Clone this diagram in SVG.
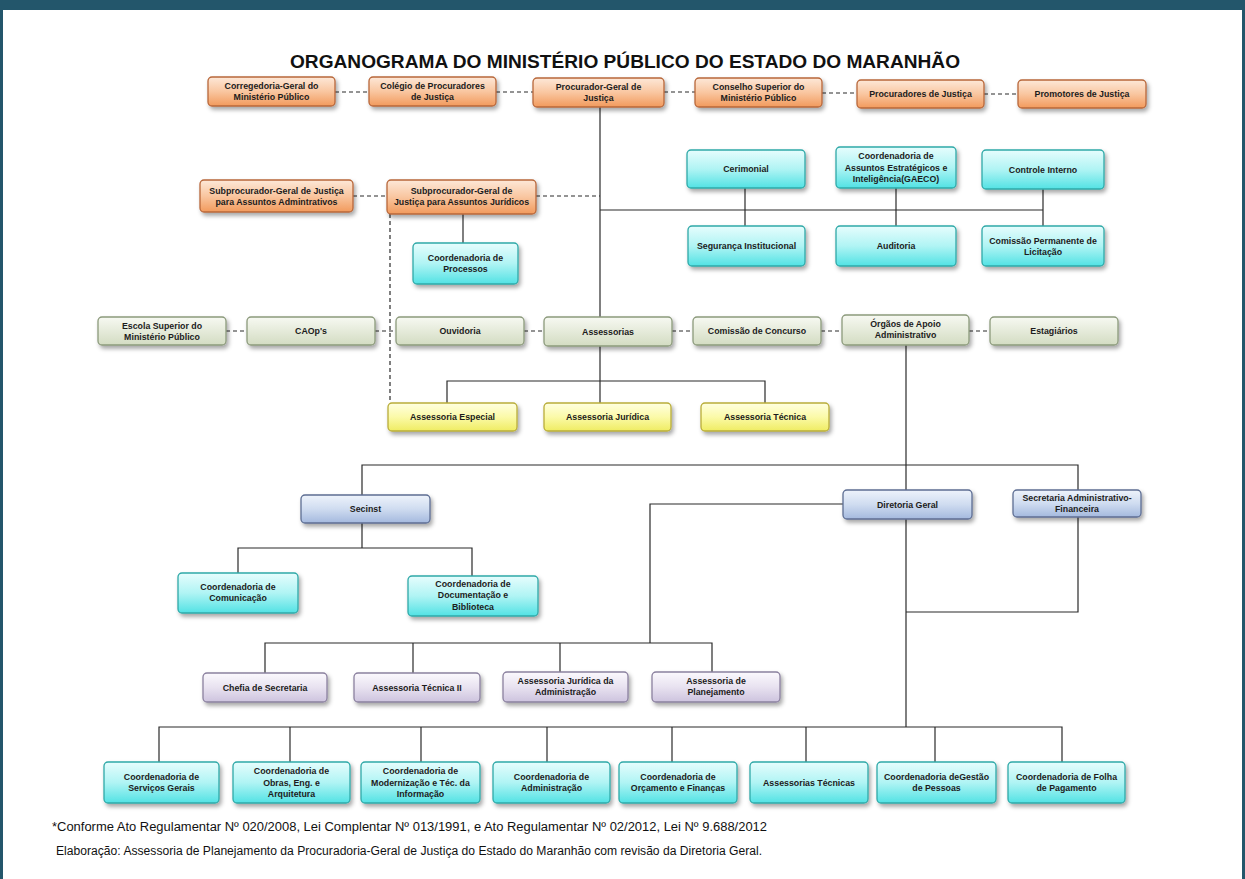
<svg xmlns="http://www.w3.org/2000/svg" width="1245" height="879" viewBox="0 0 1245 879">
<defs>
<linearGradient id="gOr" x1="0" y1="0" x2="0" y2="1"><stop offset="0" stop-color="#fde8d8"/><stop offset="0.5" stop-color="#f9c6a0"/><stop offset="1" stop-color="#f29a5c"/></linearGradient>
<linearGradient id="gCy" x1="0" y1="0" x2="0" y2="1"><stop offset="0" stop-color="#e6fdfd"/><stop offset="0.5" stop-color="#b0f4f4"/><stop offset="1" stop-color="#52e2e4"/></linearGradient>
<linearGradient id="gGr" x1="0" y1="0" x2="0" y2="1"><stop offset="0" stop-color="#f7f9f2"/><stop offset="1" stop-color="#d3dcc2"/></linearGradient>
<linearGradient id="gYe" x1="0" y1="0" x2="0" y2="1"><stop offset="0" stop-color="#ffffe0"/><stop offset="0.5" stop-color="#fbfaa8"/><stop offset="1" stop-color="#efec62"/></linearGradient>
<linearGradient id="gBl" x1="0" y1="0" x2="0" y2="1"><stop offset="0" stop-color="#eef3fb"/><stop offset="0.5" stop-color="#cfdcf0"/><stop offset="1" stop-color="#a4b9de"/></linearGradient>
<linearGradient id="gLa" x1="0" y1="0" x2="0" y2="1"><stop offset="0" stop-color="#fbf9fd"/><stop offset="0.5" stop-color="#e8e2f0"/><stop offset="1" stop-color="#cdc3de"/></linearGradient>
<filter id="sh" x="-10%" y="-20%" width="125%" height="160%"><feDropShadow dx="2" dy="3" stdDeviation="2" flood-color="#000" flood-opacity="0.35"/></filter>
</defs>
<style>
.node rect{stroke-width:1.3;filter:url(#sh)}
.or rect{fill:url(#gOr);stroke:#b8673a}
.cy rect{fill:url(#gCy);stroke:#2fa9a8}
.gr rect{fill:url(#gGr);stroke:#8c9a7c}
.ye rect{fill:url(#gYe);stroke:#b9ad3a}
.bl rect{fill:url(#gBl);stroke:#5d6e93}
.la rect{fill:url(#gLa);stroke:#8b819f}
.node text{font-family:"Liberation Sans",Arial,sans-serif;font-weight:bold;font-size:8.8px;fill:#1c1c1c;text-anchor:middle}
.conn line,.conn polyline{stroke:#2a2a2a;stroke-width:1.2;fill:none}
.conn .d{stroke-dasharray:4,3}
.title{font-family:"Liberation Sans",Arial,sans-serif;font-size:18px;font-weight:bold;fill:#111}
.foot{font-family:"Liberation Sans",Arial,sans-serif;font-size:12.5px;fill:#111}
</style>
<rect x="0" y="0" width="1245" height="879" fill="#23566b"/>
<rect x="3" y="10" width="1239" height="869" fill="#ffffff"/>
<text class="title" x="625" y="68" text-anchor="middle" textLength="670" lengthAdjust="spacingAndGlyphs">ORGANOGRAMA DO MINISTÉRIO PÚBLICO DO ESTADO DO MARANHÃO</text>

<g class="conn">
<line class="d" x1="335" y1="92" x2="369" y2="92"/>
<line class="d" x1="496" y1="92" x2="533" y2="92"/>
<line class="d" x1="664" y1="92" x2="695" y2="92"/>
<line class="d" x1="822" y1="93" x2="857" y2="93"/>
<line class="d" x1="984" y1="94" x2="1018" y2="94"/>
<line x1="600" y1="107" x2="600" y2="317"/>
<line x1="600" y1="210" x2="1043" y2="210"/>
<line x1="745" y1="188" x2="745" y2="226"/>
<line x1="896" y1="188" x2="896" y2="226"/>
<line x1="1043" y1="189" x2="1043" y2="226"/>
<line class="d" x1="353" y1="196" x2="387" y2="196"/>
<line class="d" x1="536" y1="196" x2="600" y2="196"/>
<line x1="463" y1="214" x2="463" y2="243"/>
<line class="d" x1="390" y1="214" x2="390" y2="403"/>
<line class="d" x1="226" y1="331" x2="247" y2="331"/>
<line class="d" x1="375" y1="331" x2="396" y2="331"/>
<line class="d" x1="524" y1="331" x2="544" y2="331"/>
<line class="d" x1="672" y1="331" x2="693" y2="331"/>
<line class="d" x1="821" y1="331" x2="842" y2="331"/>
<line class="d" x1="969" y1="331" x2="990" y2="331"/>
<line x1="600" y1="346" x2="600" y2="403"/>
<polyline points="447,403 447,381 765,381 765,403"/>
<line x1="906" y1="345" x2="906" y2="490"/>
<polyline points="362,495 362,465 1078,465 1078,490"/>
<polyline points="238,573 238,548 472,548 472,576"/>
<line x1="362" y1="523" x2="362" y2="548"/>
<polyline points="843,504 650,504 650,643"/>
<polyline points="265,673 265,643 712,643 712,672"/>
<line x1="413" y1="643" x2="413" y2="673"/>
<line x1="560" y1="643" x2="560" y2="672"/>
<line x1="906" y1="519" x2="906" y2="727"/>
<polyline points="1078,517 1078,612 906,612"/>
<polyline points="159,762 159,727 1062,727 1062,762"/>
<line x1="290" y1="727" x2="290" y2="762"/>
<line x1="421" y1="727" x2="421" y2="762"/>
<line x1="547" y1="727" x2="547" y2="762"/>
<line x1="672" y1="727" x2="672" y2="762"/>
<line x1="806" y1="727" x2="806" y2="762"/>
<line x1="935" y1="727" x2="935" y2="762"/>
</g>

<g id="corregedoria" class="node or"><rect x="208" y="77" width="127" height="29" rx="4"/><text x="271.5" y="89">Corregedoria-Geral do</text><text x="271.5" y="100">Ministério Público</text></g>
<g id="colegio" class="node or"><rect x="369" y="77" width="127" height="29" rx="4"/><text x="432.5" y="89">Colégio de Procuradores</text><text x="432.5" y="100">de Justiça</text></g>
<g id="pgj" class="node or"><rect x="533" y="78" width="131" height="29" rx="4"/><text x="598.5" y="90">Procurador-Geral de</text><text x="598.5" y="101">Justiça</text></g>
<g id="conselho" class="node or"><rect x="695" y="78" width="127" height="29" rx="4"/><text x="758.5" y="90">Conselho Superior do</text><text x="758.5" y="101">Ministério Público</text></g>
<g id="procuradores" class="node or"><rect x="857" y="80" width="127" height="28" rx="4"/><text x="920.5" y="97">Procuradores de Justiça</text></g>
<g id="promotores" class="node or"><rect x="1018" y="80" width="128" height="28" rx="4"/><text x="1082" y="97">Promotores de Justiça</text></g>

<g id="subproc-adm" class="node or"><rect x="200" y="180" width="153" height="32" rx="4"/><text x="276.5" y="193.5">Subprocurador-Geral de Justiça</text><text x="276.5" y="204.5">para Assuntos Admintrativos</text></g>
<g id="subproc-jur" class="node or"><rect x="387" y="180" width="149" height="34" rx="4"/><text x="461.5" y="194">Subprocurador-Geral de</text><text x="461.5" y="205">Justiça para Assuntos Jurídicos</text></g>
<g id="coord-processos" class="node cy"><rect x="413" y="243" width="105" height="41" rx="4"/><text x="465.5" y="261">Coordenadoria de</text><text x="465.5" y="272">Processos</text></g>

<g id="cerimonial" class="node cy"><rect x="687" y="150" width="118" height="38" rx="4"/><text x="746" y="172">Cerimonial</text></g>
<g id="gaeco" class="node cy"><rect x="836" y="147" width="120" height="41" rx="4"/><text x="896" y="159">Coordenadoria de</text><text x="896" y="170.5">Assuntos Estratégicos e</text><text x="896" y="182">Inteligência(GAECO)</text></g>
<g id="controle-interno" class="node cy"><rect x="982" y="150" width="122" height="39" rx="4"/><text x="1043" y="172.5">Controle Interno</text></g>
<g id="seguranca" class="node cy"><rect x="688" y="226" width="117" height="40" rx="4"/><text x="746.5" y="249">Segurança Institucional</text></g>
<g id="auditoria" class="node cy"><rect x="836" y="226" width="120" height="40" rx="4"/><text x="896" y="249">Auditoria</text></g>
<g id="comissao-licitacao" class="node cy"><rect x="982" y="226" width="122" height="40" rx="4"/><text x="1043" y="243.5">Comissão Permanente de</text><text x="1043" y="254.5">Licitação</text></g>

<g id="escola" class="node gr"><rect x="98" y="317" width="128" height="28" rx="4"/><text x="162" y="328.5">Escola Superior do</text><text x="162" y="339.5">Ministério Público</text></g>
<g id="caops" class="node gr"><rect x="247" y="317" width="128" height="28" rx="4"/><text x="311" y="334">CAOp's</text></g>
<g id="ouvidoria" class="node gr"><rect x="396" y="317" width="128" height="28" rx="4"/><text x="460" y="334">Ouvidoria</text></g>
<g id="assessorias" class="node gr"><rect x="544" y="317" width="128" height="29" rx="4"/><text x="608" y="334.5">Assessorias</text></g>
<g id="comissao-concurso" class="node gr"><rect x="693" y="317" width="128" height="28" rx="4"/><text x="757" y="334">Comissão de Concurso</text></g>
<g id="orgaos-apoio" class="node gr"><rect x="842" y="315" width="127" height="30" rx="4"/><text x="905.5" y="327">Órgãos de Apoio</text><text x="905.5" y="338">Administrativo</text></g>
<g id="estagiarios" class="node gr"><rect x="990" y="317" width="128" height="28" rx="4"/><text x="1054" y="334">Estagiários</text></g>

<g id="assessoria-especial" class="node ye"><rect x="388" y="403" width="129" height="28" rx="4"/><text x="452.5" y="420">Assessoria Especial</text></g>
<g id="assessoria-juridica" class="node ye"><rect x="544" y="403" width="127" height="28" rx="4"/><text x="607.5" y="420">Assessoria Jurídica</text></g>
<g id="assessoria-tecnica" class="node ye"><rect x="701" y="403" width="128" height="28" rx="4"/><text x="765" y="420">Assessoria Técnica</text></g>

<g id="secinst" class="node bl"><rect x="301" y="495" width="129" height="28" rx="4"/><text x="365.5" y="512">Secinst</text></g>
<g id="diretoria-geral" class="node bl"><rect x="843" y="490" width="129" height="29" rx="4"/><text x="907.5" y="507.5">Diretoria Geral</text></g>
<g id="secretaria-adm-fin" class="node bl"><rect x="1013" y="490" width="128" height="27" rx="4"/><text x="1077" y="500.5">Secretaria Administrativo-</text><text x="1077" y="511.5">Financeira</text></g>

<g id="coord-comunicacao" class="node cy"><rect x="178" y="573" width="120" height="40" rx="4"/><text x="238" y="590">Coordenadoria de</text><text x="238" y="601">Comunicação</text></g>
<g id="coord-documentacao" class="node cy"><rect x="408" y="576" width="130" height="40" rx="4"/><text x="473" y="586.5">Coordenadoria de</text><text x="473" y="598">Documentação e</text><text x="473" y="609.5">Biblioteca</text></g>

<g id="chefia-secretaria" class="node la"><rect x="203" y="673" width="124" height="29" rx="4"/><text x="265" y="690.5">Chefia de Secretaria</text></g>
<g id="assessoria-tecnica-2" class="node la"><rect x="354" y="673" width="126" height="29" rx="4"/><text x="417" y="690.5">Assessoria Técnica II</text></g>
<g id="assessoria-juridica-adm" class="node la"><rect x="503" y="672" width="125" height="30" rx="4"/><text x="565.5" y="684">Assessoria Jurídica da</text><text x="565.5" y="695">Administração</text></g>
<g id="assessoria-planejamento" class="node la"><rect x="652" y="672" width="128" height="30" rx="4"/><text x="716" y="684">Assessoria de</text><text x="716" y="695">Planejamento</text></g>

<g id="coord-servicos" class="node cy"><rect x="104" y="762" width="115" height="41" rx="4"/><text x="161.5" y="779.5">Coordenadoria de</text><text x="161.5" y="790.5">Serviços Gerais</text></g>
<g id="coord-obras" class="node cy"><rect x="233" y="762" width="117" height="41" rx="4"/><text x="291.5" y="774">Coordenadoria de</text><text x="291.5" y="785.5">Obras, Eng. e</text><text x="291.5" y="797">Arquitetura</text></g>
<g id="coord-modernizacao" class="node cy"><rect x="361" y="762" width="119" height="41" rx="4"/><text x="420.5" y="774">Coordenadoria de</text><text x="420.5" y="785.5">Modernização e Téc. da</text><text x="420.5" y="797">Informação</text></g>
<g id="coord-administracao" class="node cy"><rect x="493" y="762" width="117" height="41" rx="4"/><text x="551.5" y="779.5">Coordenadoria de</text><text x="551.5" y="790.5">Administração</text></g>
<g id="coord-orcamento" class="node cy"><rect x="619" y="762" width="118" height="41" rx="4"/><text x="678" y="779.5">Coordenadoria de</text><text x="678" y="790.5">Orçamento e Finanças</text></g>
<g id="assessorias-tecnicas" class="node cy"><rect x="750" y="762" width="118" height="41" rx="4"/><text x="809" y="785.5">Assessorias Técnicas</text></g>
<g id="coord-gestao" class="node cy"><rect x="877" y="762" width="119" height="41" rx="4"/><text x="936.5" y="779.5">Coordenadoria deGestão</text><text x="936.5" y="790.5">de Pessoas</text></g>
<g id="coord-folha" class="node cy"><rect x="1008" y="762" width="117" height="41" rx="4"/><text x="1066.5" y="779.5">Coordenadoria de Folha</text><text x="1066.5" y="790.5">de Pagamento</text></g>

<text class="foot" x="52" y="831" textLength="715" lengthAdjust="spacingAndGlyphs">*Conforme Ato Regulamentar Nº 020/2008, Lei Complentar Nº 013/1991, e Ato Regulamentar Nº 02/2012, Lei Nº 9.688/2012</text>
<text class="foot" x="56" y="855" textLength="706" lengthAdjust="spacingAndGlyphs">Elaboração: Assessoria de Planejamento da Procuradoria-Geral de Justiça do Estado do Maranhão com revisão da Diretoria Geral.</text>
</svg>
